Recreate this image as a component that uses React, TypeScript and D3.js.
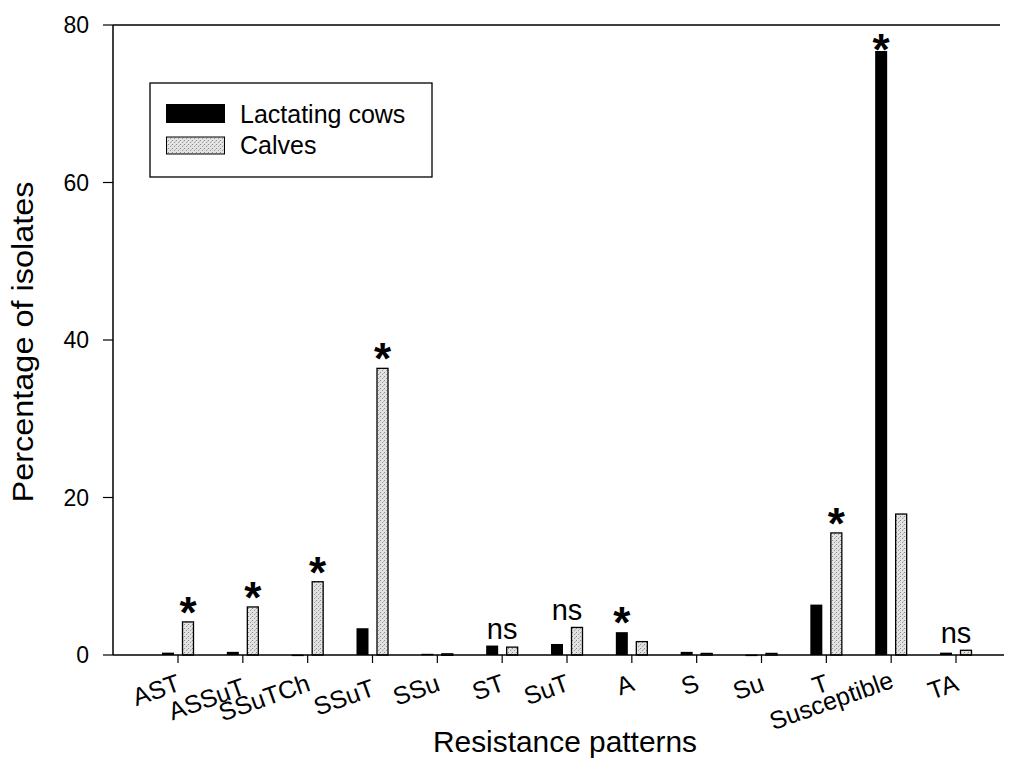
import React from "react";
import * as d3 from "d3";

const categories = ["AST", "ASSuT", "SSuTCh", "SSuT", "SSu", "ST", "SuT", "A", "S", "Su", "T", "Susceptible", "TA"];
const cows = [0.3, 0.4, 0.05, 3.4, 0.15, 1.2, 1.4, 2.9, 0.4, 0.05, 6.4, 76.7, 0.3];
const calves = [4.2, 6.1, 9.3, 36.4, 0.15, 1.0, 3.5, 1.7, 0.2, 0.2, 15.5, 17.9, 0.6];
const marks = ["*", "*", "*", "*", "", "ns", "ns", "*", "", "", "*", "*", "ns"];
const markOn = ["calves", "calves", "calves", "calves", "", "group", "group", "cows", "", "", "calves", "cows", "group"];
const yTicks = [0, 20, 40, 60, 80];
const seriesNames = ["Lactating cows", "Calves"];

const labelDy: Record<string, number> = { ASSuT: 4, SSuT: 5, Susceptible: -3 };

const FONT = "'Liberation Sans', Arial, Helvetica, sans-serif";

export default function App() {
  const W = 1010, H = 758;
  const left = 113, right = 1000, top = 25, bottom = 655;
  const x = d3.scalePoint<string>().domain(categories).range([178, 956]);
  const y = d3.scaleLinear().domain([0, 80]).range([bottom, top]);
  const barW = 12, gapHalf = 4;

  return (
    <svg width={W} height={H} style={{ position: "absolute", left: 0, top: 0, background: "#fff" }} fontFamily={FONT}>
      <defs>
        <pattern id="stipple" width="4" height="4" patternUnits="userSpaceOnUse">
          <rect width="4" height="4" fill="#e2e2e2" />
          <rect x="0" y="0" width="1" height="1" fill="#8c8c8c" />
          <rect x="2" y="2" width="1" height="1" fill="#9a9a9a" />
          <rect x="3" y="1" width="1" height="1" fill="#bdbdbd" />
        </pattern>
      </defs>

      {/* bars */}
      {categories.map((c, i) => {
        const cx = x(c)!;
        const hc = bottom - y(cows[i]);
        const hv = bottom - y(calves[i]);
        return (
          <g key={c}>
            <rect x={cx - gapHalf - barW} y={y(cows[i])} width={barW} height={Math.max(hc, 1.5)} fill="#000" />
            <rect x={cx + gapHalf + 0.5} y={y(calves[i])} width={barW - 1} height={Math.max(hv, 1.5)} fill="url(#stipple)" stroke="#000" strokeWidth={1.3} />
          </g>
        );
      })}

      {/* annotations */}
      {categories.map((c, i) => {
        const m = marks[i];
        if (!m) return null;
        const cx = x(c)!;
        if (m === "ns") {
          const topY = y(Math.max(cows[i], calves[i]));
          return (
            <text key={"m" + c} x={cx} y={topY - 7} textAnchor="middle" fontSize={29}>ns</text>
          );
        }
        const onCalves = markOn[i] === "calves";
        const mx = onCalves ? cx + gapHalf + barW / 2 : cx - gapHalf - barW / 2;
        const v = onCalves ? calves[i] : cows[i];
        const centerY = Math.max(y(v) - 19, 40);
        return (
          <text key={"m" + c} x={mx} y={centerY + 25} textAnchor="middle" fontSize={44} fontWeight="bold">*</text>
        );
      })}

      {/* axes frame */}
      <line x1={left} x2={left} y1={top} y2={bottom} stroke="#000" strokeWidth={1.5} />
      <line x1={left} x2={right} y1={top} y2={top} stroke="#000" strokeWidth={1.5} />
      <line x1={left} x2={right + 4} y1={bottom} y2={bottom} stroke="#000" strokeWidth={1.5} />

      {/* y ticks */}
      {yTicks.map((t) => (
        <g key={"y" + t}>
          <line x1={left - 10} x2={left} y1={y(t)} y2={y(t)} stroke="#000" strokeWidth={1.2} />
          <text x={89} y={y(t) + 8} textAnchor="end" fontSize={23}>{t}</text>
        </g>
      ))}

      {/* x ticks */}
      {categories.map((c) => {
        const cx = x(c)!;
        return (
          <g key={"x" + c}>
            <line x1={cx} x2={cx} y1={bottom} y2={bottom + 8} stroke="#000" strokeWidth={1.2} />
            <text transform={`translate(${cx + 4},${690 + (labelDy[c] || 0)}) rotate(-19.5)`} textAnchor="end" fontSize={25}>{c}</text>
          </g>
        );
      })}

      {/* axis titles */}
      <text x={565} y={752} textAnchor="middle" fontSize={29} textLength={264} lengthAdjust="spacingAndGlyphs">Resistance patterns</text>
      <text transform={`translate(33,342) rotate(-90)`} textAnchor="middle" fontSize={29} textLength={321} lengthAdjust="spacingAndGlyphs">Percentage of isolates</text>

      {/* legend */}
      <rect x={150} y={83} width={282} height={94} fill="#fff" stroke="#000" strokeWidth={1.3} />
      <rect x={166} y={104} width={59} height={19} fill="#000" />
      <rect x={166.5} y={137} width={58} height={17} fill="url(#stipple)" stroke="#000" strokeWidth={1} />
      <text x={240} y={123} fontSize={25}>{seriesNames[0]}</text>
      <text x={240} y={154} fontSize={25}>{seriesNames[1]}</text>
    </svg>
  );
}
